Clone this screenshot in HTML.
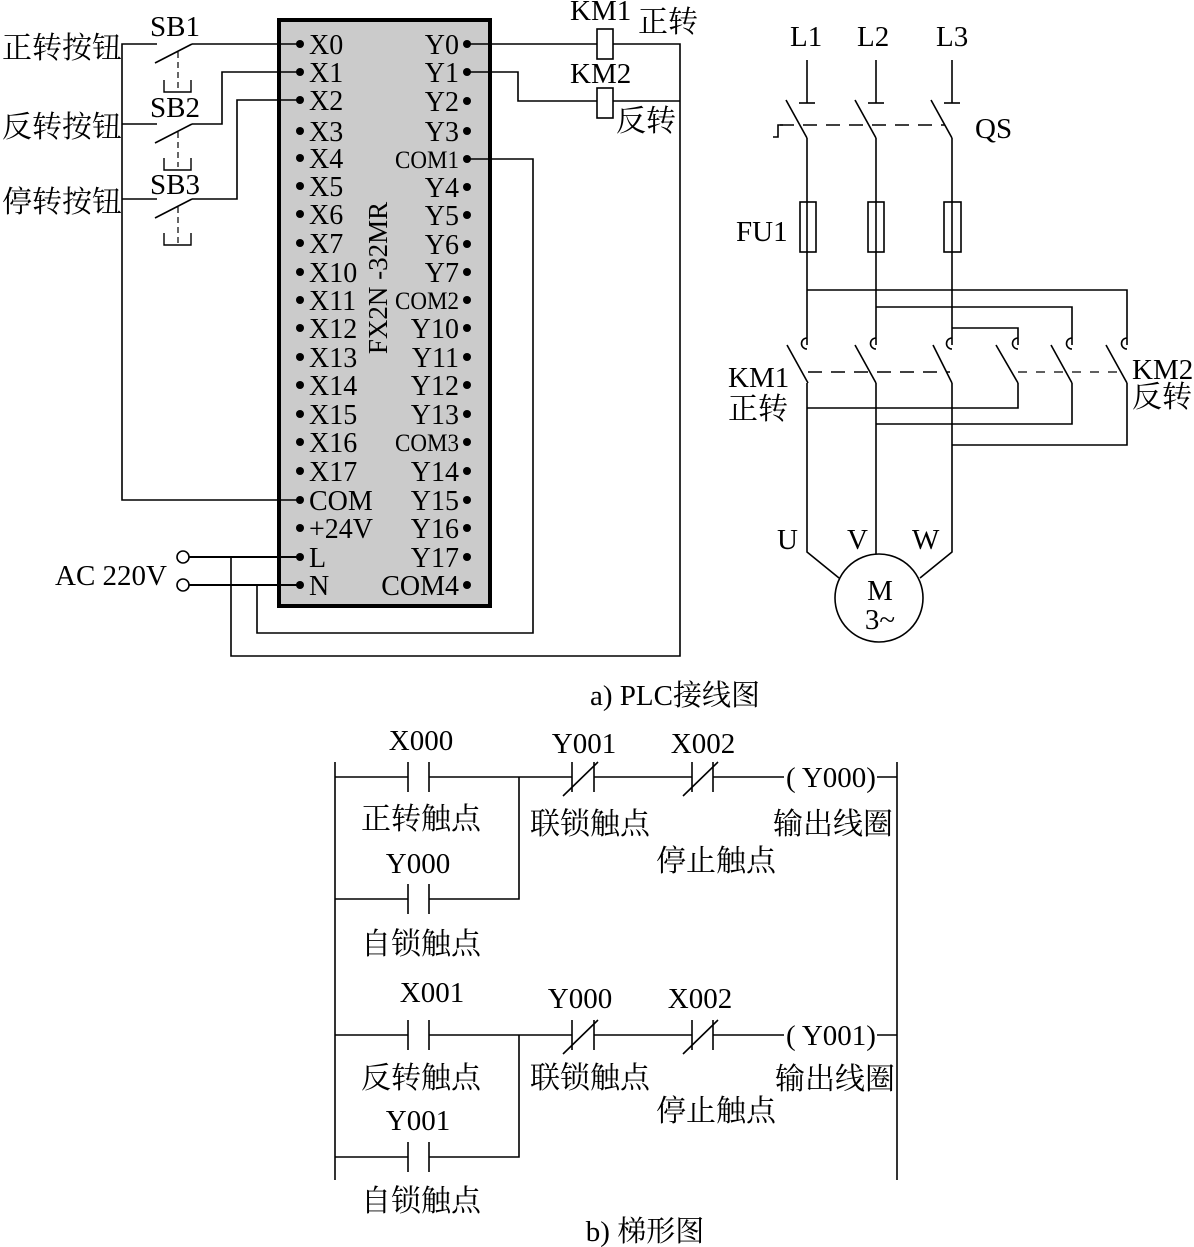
<!DOCTYPE html>
<html><head><meta charset="utf-8"><style>
html,body{margin:0;padding:0;background:#fff}
svg{display:block}
text{font-family:"Liberation Serif","Noto Serif CJK SC",serif;fill:#000}
</style></head><body>
<svg width="1194" height="1247" viewBox="0 0 1194 1247" xmlns="http://www.w3.org/2000/svg">
<g stroke="#000" fill="none" stroke-width="1.6">
<rect x="279" y="20" width="211" height="586" fill="#cbcbcb" stroke-width="4"/>
<polyline points="157,44 122,44 122,500 300,500"/>
<line x1="122" y1="124" x2="157" y2="124"/>
<line x1="122" y1="199" x2="157" y2="199"/>
<line x1="155" y1="63" x2="192" y2="44"/>
<line x1="192" y1="44" x2="300" y2="44"/>
<line x1="155" y1="143" x2="192" y2="124"/>
<polyline points="192,124 222,124 222,72 300,72"/>
<line x1="155" y1="218" x2="192" y2="199"/>
<polyline points="192,199 237,199 237,100 300,100"/>
<g stroke-dasharray="6,4" stroke-width="1.2">
<line x1="178" y1="52" x2="178" y2="92"/>
<line x1="178" y1="132" x2="178" y2="167"/>
<line x1="178" y1="207" x2="178" y2="245"/>
</g>
<polyline points="164,80 164,92 191,92 191,80" stroke-width="1.4"/>
<polyline points="164,158 164,170 191,170 191,158" stroke-width="1.4"/>
<polyline points="164,233 164,245 191,245 191,233" stroke-width="1.4"/>
<line x1="467" y1="44" x2="597" y2="44"/>
<rect x="597" y="29" width="16" height="30" fill="#fff"/>
<polyline points="613,44 680,44 680,656 231,656 231,557"/>
<polyline points="467,72 518,72 518,101 597,101"/>
<rect x="597" y="88" width="16" height="30" fill="#fff"/>
<line x1="613" y1="101" x2="680" y2="101"/>
<polyline points="467,159 533,159 533,633 257,633 257,585"/>
<line x1="188" y1="557" x2="300" y2="557" stroke-width="2"/>
<line x1="188" y1="585" x2="300" y2="585" stroke-width="2"/>
<circle cx="183" cy="557" r="6" fill="#fff"/>
<circle cx="183" cy="585" r="6" fill="#fff"/>
<line x1="807" y1="60" x2="807" y2="103"/><line x1="799" y1="103" x2="815" y2="103"/>
<line x1="876" y1="60" x2="876" y2="103"/><line x1="868" y1="103" x2="884" y2="103"/>
<line x1="952" y1="60" x2="952" y2="103"/><line x1="944" y1="103" x2="960" y2="103"/>
<line x1="786" y1="100" x2="807" y2="138"/>
<line x1="855" y1="100" x2="876" y2="138"/>
<line x1="931" y1="100" x2="952" y2="138"/>
<line x1="780" y1="125" x2="945" y2="125" stroke-dasharray="14,9"/>
<polyline points="773,137 778,137 778,125 783,125"/>
<line x1="807" y1="138" x2="807" y2="345"/>
<line x1="876" y1="138" x2="876" y2="345"/>
<line x1="952" y1="138" x2="952" y2="345"/>
<rect x="800" y="202" width="16" height="50"/>
<rect x="868" y="202" width="16" height="50"/>
<rect x="944" y="202" width="17" height="50"/>
<polyline points="807,290 1127,290 1127,345"/>
<polyline points="876,307 1072,307 1072,345"/>
<polyline points="952,328 1018,328 1018,345"/>
<g>
<path d="M807,338 a5,5 0 0 0 0,11"/>
<path d="M876,338 a5,5 0 0 0 0,11"/>
<path d="M952,338 a5,5 0 0 0 0,11"/>
<path d="M1018,338 a5,5 0 0 0 0,11"/>
<path d="M1072,338 a5,5 0 0 0 0,11"/>
<path d="M1127,338 a5,5 0 0 0 0,11"/>
</g>
<line x1="787" y1="345" x2="808" y2="383"/>
<line x1="855" y1="345" x2="876" y2="383"/>
<line x1="933" y1="345" x2="952" y2="383"/>
<line x1="996" y1="345" x2="1018" y2="383"/>
<line x1="1051" y1="345" x2="1072" y2="383"/>
<line x1="1106" y1="345" x2="1127" y2="383"/>
<line x1="808" y1="372" x2="950" y2="372" stroke-dasharray="14,9"/>
<line x1="1018" y1="372" x2="1125" y2="372" stroke-dasharray="9,9" stroke-width="1.2"/>
<polyline points="1018,383 1018,408 807,408"/>
<polyline points="1072,383 1072,424 876,424"/>
<polyline points="1127,383 1127,445 952,445"/>
<polyline points="807,383 807,552 839,578"/>
<polyline points="876,383 876,554"/>
<polyline points="952,383 952,552 920,578"/>
<circle cx="879" cy="598" r="44"/>
<line x1="335" y1="762" x2="335" y2="1180"/>
<line x1="897" y1="762" x2="897" y2="1180"/>
<g id="r1">
<line x1="335" y1="777" x2="408" y2="777"/>
<line x1="408" y1="762" x2="408" y2="792"/><line x1="429" y1="762" x2="429" y2="792"/>
<line x1="429" y1="777" x2="572" y2="777"/>
<line x1="572" y1="762" x2="572" y2="792"/><line x1="594" y1="762" x2="594" y2="792"/>
<line x1="563" y1="796" x2="598" y2="762"/>
<line x1="594" y1="777" x2="692" y2="777"/>
<line x1="692" y1="762" x2="692" y2="792"/><line x1="713" y1="762" x2="713" y2="792"/>
<line x1="683" y1="796" x2="718" y2="762"/>
<line x1="713" y1="777" x2="784" y2="777"/>
<line x1="877" y1="777" x2="897" y2="777"/>
<line x1="335" y1="899" x2="408" y2="899"/>
<line x1="408" y1="884" x2="408" y2="914"/><line x1="429" y1="884" x2="429" y2="914"/>
<polyline points="429,899 519,899 519,777"/>
</g>
<use href="#r1" transform="translate(0,258)"/>
</g>
<g font-size="30">
<text x="2" y="58">正转按钮</text>
<text x="2" y="137">反转按钮</text>
<text x="2" y="212">停转按钮</text>
<text x="616" y="131">反转</text>
<text x="638" y="32">正转</text>
</g>
<g font-size="29">
<text x="150" y="36">SB1</text>
<text x="150" y="117">SB2</text>
<text x="150" y="194">SB3</text>
<text x="570" y="20">KM1</text>
<text x="570" y="83">KM2</text>
<text x="55" y="585">AC 220V</text>
</g>
<g font-size="28">
<g fill="#000">
<circle cx="300" cy="44" r="4"/><circle cx="300" cy="72" r="4"/><circle cx="300" cy="100" r="4"/><circle cx="300" cy="131" r="4"/><circle cx="300" cy="158" r="4"/><circle cx="300" cy="186" r="4"/><circle cx="300" cy="214" r="4"/><circle cx="300" cy="243" r="4"/><circle cx="300" cy="272" r="4"/><circle cx="300" cy="300" r="4"/><circle cx="300" cy="328" r="4"/><circle cx="300" cy="357" r="4"/><circle cx="300" cy="385" r="4"/><circle cx="300" cy="414" r="4"/><circle cx="300" cy="442" r="4"/><circle cx="300" cy="471" r="4"/><circle cx="300" cy="500" r="4"/><circle cx="300" cy="528" r="4"/><circle cx="300" cy="557" r="4"/><circle cx="300" cy="585" r="4"/>
<circle cx="467" cy="44" r="4"/><circle cx="467" cy="72" r="4"/><circle cx="467" cy="101" r="4"/><circle cx="467" cy="131" r="4"/><circle cx="467" cy="159" r="4"/><circle cx="467" cy="187" r="4"/><circle cx="467" cy="215" r="4"/><circle cx="467" cy="244" r="4"/><circle cx="467" cy="272" r="4"/><circle cx="467" cy="300" r="4"/><circle cx="467" cy="328" r="4"/><circle cx="467" cy="357" r="4"/><circle cx="467" cy="385" r="4"/><circle cx="467" cy="414" r="4"/><circle cx="467" cy="442" r="4"/><circle cx="467" cy="471" r="4"/><circle cx="467" cy="500" r="4"/><circle cx="467" cy="528" r="4"/><circle cx="467" cy="557" r="4"/><circle cx="467" cy="585" r="4"/>
</g>
<g>
<text x="309" y="54">X0</text><text x="309" y="82">X1</text><text x="309" y="110">X2</text><text x="309" y="141">X3</text><text x="309" y="168">X4</text><text x="309" y="196">X5</text><text x="309" y="224">X6</text><text x="309" y="253">X7</text><text x="309" y="282">X10</text><text x="309" y="310">X11</text><text x="309" y="338">X12</text><text x="309" y="367">X13</text><text x="309" y="395">X14</text><text x="309" y="424">X15</text><text x="309" y="452">X16</text><text x="309" y="481">X17</text><text x="309" y="510">COM</text><text x="309" y="538">+24V</text><text x="309" y="567">L</text><text x="309" y="595">N</text>
</g>
<g text-anchor="end">
<text x="459" y="54">Y0</text><text x="459" y="82">Y1</text><text x="459" y="111">Y2</text><text x="459" y="141">Y3</text><text x="459" y="168" textLength="64" lengthAdjust="spacingAndGlyphs" font-size="25">COM1</text><text x="459" y="197">Y4</text><text x="459" y="225">Y5</text><text x="459" y="254">Y6</text><text x="459" y="282">Y7</text><text x="459" y="309" textLength="64" lengthAdjust="spacingAndGlyphs" font-size="25">COM2</text><text x="459" y="338">Y10</text><text x="459" y="367">Y11</text><text x="459" y="395">Y12</text><text x="459" y="424">Y13</text><text x="459" y="451" textLength="64" lengthAdjust="spacingAndGlyphs" font-size="25">COM3</text><text x="459" y="481">Y14</text><text x="459" y="510">Y15</text><text x="459" y="538">Y16</text><text x="459" y="567">Y17</text><text x="459" y="595">COM4</text>
</g>
<text transform="translate(387,278) rotate(-90)" text-anchor="middle" font-size="27">FX2N -32MR</text>
</g>
<g font-size="29">
<text x="790" y="46">L1</text><text x="857" y="46">L2</text><text x="936" y="46">L3</text>
<text x="975" y="138">QS</text>
<text x="736" y="241">FU1</text>
<text x="728" y="387">KM1</text>
<text x="1132" y="379">KM2</text>
<text x="777" y="549">U</text><text x="847" y="549">V</text><text x="912" y="549">W</text>
<text x="880" y="600" text-anchor="middle">M</text>
<text x="880" y="629" text-anchor="middle">3~</text>
<text x="675" y="705" text-anchor="middle">a) PLC接线图</text>
</g>
<g font-size="30">
<text x="728" y="419">正转</text>
<text x="1132" y="407">反转</text>
</g>
<g font-size="29" text-anchor="middle">
<text x="421" y="750">X000</text><text x="418" y="873">Y000</text>
<text x="584" y="753">Y001</text><text x="703" y="753">X002</text>
<text x="831" y="787">( Y000)</text>
<text x="432" y="1002">X001</text><text x="418" y="1130">Y001</text>
<text x="580" y="1008">Y000</text><text x="700" y="1008">X002</text>
<text x="831" y="1045">( Y001)</text>
<text x="645" y="1241">b) 梯形图</text>
</g>
<g font-size="30" text-anchor="middle">
<text x="421" y="829">正转触点</text><text x="421" y="954">自锁触点</text>
<text x="590" y="834">联锁触点</text><text x="716" y="871">停止触点</text><text x="833" y="834">输出线圈</text>
<text x="421" y="1088">反转触点</text><text x="421" y="1211">自锁触点</text>
<text x="590" y="1088">联锁触点</text><text x="716" y="1121">停止触点</text><text x="835" y="1089">输出线圈</text>
</g>
</svg>
</body></html>
